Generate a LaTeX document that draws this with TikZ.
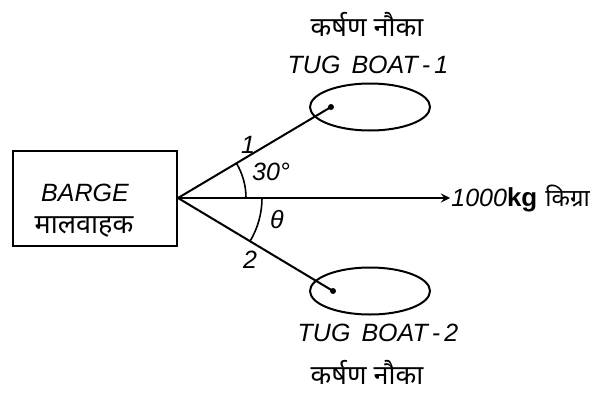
\documentclass[tikz,border=0pt]{standalone}
\usepackage{fontspec}
\setmainfont{Liberation Sans}
\newfontfamily\hindi[Script=Devanagari]{Noto Sans}
\usetikzlibrary{arrows,shapes.geometric}
\tikzset{
  rope/.style={line width=1pt},
  lbl/.style={font=\itshape\fontsize{12.5}{14}\selectfont, inner sep=0pt},
  hlbl/.style={font=\hindi\fontsize{13.5}{15}\selectfont, inner sep=0pt},
  boat/.style={draw, ellipse, line width=1pt, minimum width=60pt, minimum height=23.5pt, inner sep=0pt}
}

\begin{document}
\begin{tikzpicture}[x=0.5pt,y=0.5pt]
\useasboundingbox (0,0) rectangle (599,392);
% barge
\node[draw, line width=1pt, minimum width=82pt, minimum height=47.5pt, inner sep=0pt] (barge) at (95,194) {};
\node[lbl] (bargeen) at (85,199) {BARGE};
\node[hlbl] (bargehi) at (84,165) {मालवाहक};
% tug boats
\node[boat] (tug1) at (370,285) {};
\node[boat] (tug2) at (370,101) {};
\coordinate (hook1) at (331,285);
\coordinate (hook2) at (333,101);
\fill (hook1) circle (3);
\fill (hook2) circle (3);
\node[lbl] (tug1en) at (368,327) {TUG~\,BOAT\,-\,1};
\node[hlbl] (tug1hi) at (367,368) {कर्षण नौका};
\node[lbl] (tug2en) at (378,59) {TUG~\,BOAT\,-\,2};
\node[hlbl] (tug2hi) at (367,20) {कर्षण नौका};
% ropes and resultant
\coordinate (apex) at (barge.east);
\coordinate (tip) at (450,194);
\draw[rope] (apex) -- (hook1);
\draw[rope] (apex) -- (hook2);
\draw[rope,-stealth] (apex) -- (tip);
\node[anchor=west, inner sep=0.5pt] (pull) at (tip) {{\itshape\fontsize{12.5}{14}\selectfont 1000}{\bfseries\fontsize{13}{14}\selectfont kg}\hspace{4pt}{\hindi\fontsize{12}{14}\selectfont किग्रा}};
% angles
\draw[line width=0.8pt] (apex) ++(68,0) arc[start angle=0, end angle=30.6, radius=68];
\draw[line width=0.8pt] (apex) ++(84,0) arc[start angle=0, end angle=-31.1, radius=84];
\node[lbl] (one) at (248,247) {1};
\node[lbl] (ang1) at (271,220) {30°};
\node[lbl] (theta) at (277,172) {θ};
\node[lbl] (two) at (250,132) {2};
\end{tikzpicture}
\end{document}
